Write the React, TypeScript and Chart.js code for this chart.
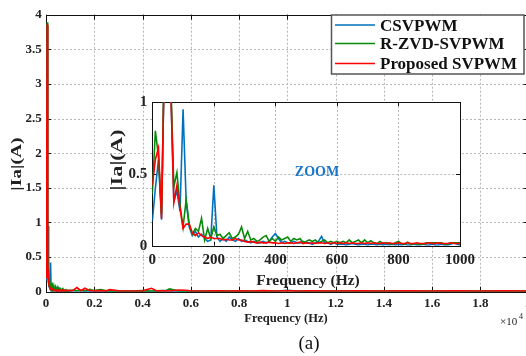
import React, { useEffect, useRef } from "react";
import { Chart, registerables } from "chart.js";
Chart.register(...registerables);

// ---------- data ----------
const freqLow = [
  0, 10, 20, 30, 40, 50, 60, 70, 80, 90, 100, 110, 120, 130, 140, 150, 160, 170, 180, 190,
  200, 210, 220, 230, 240, 250, 260, 270, 280, 290, 300, 310, 320, 330, 340, 350, 360, 370, 380, 390,
  400, 410, 420, 430, 440, 450, 460, 470, 480, 490, 500, 510, 520, 530, 540, 550, 560, 570, 580, 590,
  600, 610, 620, 630, 640, 650, 660, 670, 680, 690, 700, 710, 720, 730, 740, 750, 760, 770, 780, 790,
  800, 810, 820, 830, 840, 850, 860, 870, 880, 890, 900, 910, 920, 930, 940, 950, 960, 970, 980, 990, 1000,
];

const csvLow = [
  0.17, 0.40, 0.60, 0.18, 1.40, 3.84, 1.10, 0.31, 0.38, 0.24, 0.95, 0.31, 0.13, 0.07, 0.10, 0.06, 0.08, 0.05, 0.03, 0.04,
  0.42, 0.06, 0.03, 0.05, 0.03, 0.06, 0.04, 0.03, 0.05, 0.03, 0.04, 0.03, 0.02, 0.03, 0.02, 0.02, 0.03, 0.02, 0.03, 0.06,
  0.085, 0.05, 0.02, 0.03, 0.02, 0.02, 0.03, 0.02, 0.02, 0.03, 0.02, 0.02, 0.01, 0.02, 0.03, 0.065, 0.02, 0.02, 0.01, 0.02,
  0.01, 0.01, 0.01, 0.005, 0.01, 0.015, 0.01, 0.005, 0.01, 0.01, 0.005, 0.01, 0.01, 0.005, 0.01, 0.005, 0.01, 0.005, 0.01, 0.005,
  0.01, 0.005, 0.01, 0.005, 0.005, 0.01, 0.005, 0.005, 0.01, 0.005, 0.005, 0.01, 0.005, 0.005, 0.01, 0.005, 0.005, 0.01, 0.02, 0.01, 0.005,
];

const rzvdLow = [
  0.36, 0.80, 0.62, 0.22, 1.45, 3.89, 1.15, 0.41, 0.51, 0.28, 0.13, 0.32, 0.15, 0.08, 0.12, 0.10, 0.19, 0.04, 0.12, 0.05,
  0.13, 0.07, 0.08, 0.05, 0.07, 0.09, 0.05, 0.06, 0.08, 0.13, 0.05, 0.10, 0.04, 0.05, 0.03, 0.04, 0.06, 0.07, 0.03, 0.05,
  0.03, 0.06, 0.04, 0.05, 0.06, 0.03, 0.05, 0.04, 0.05, 0.02, 0.03, 0.04, 0.03, 0.04, 0.02, 0.03, 0.04, 0.02, 0.03, 0.02,
  0.03, 0.02, 0.03, 0.02, 0.04, 0.02, 0.03, 0.04, 0.02, 0.04, 0.02, 0.035, 0.02, 0.015, 0.03, 0.015, 0.02, 0.015, 0.01, 0.02,
  0.03, 0.015, 0.01, 0.025, 0.01, 0.015, 0.01, 0.01, 0.01, 0.02, 0.02, 0.02, 0.02, 0.02, 0.02, 0.01, 0.01, 0.02, 0.02, 0.02, 0.02,
];

const propLow = [
  0.42, 0.60, 0.68, 0.19, 1.40, 3.86, 1.10, 0.30, 0.42, 0.26, 0.12, 0.15, 0.15, 0.09, 0.07, 0.09, 0.07, 0.06, 0.05, 0.06,
  0.05, 0.05, 0.05, 0.04, 0.045, 0.04, 0.04, 0.05, 0.04, 0.04, 0.03, 0.025, 0.03, 0.025, 0.02, 0.025, 0.02, 0.02, 0.025, 0.02,
  0.02, 0.015, 0.02, 0.015, 0.02, 0.02, 0.015, 0.02, 0.025, 0.015, 0.02, 0.015, 0.02, 0.015, 0.02, 0.02, 0.015, 0.02, 0.015, 0.02,
  0.015, 0.02, 0.015, 0.02, 0.015, 0.02, 0.015, 0.015, 0.02, 0.015, 0.02, 0.015, 0.02, 0.015, 0.015, 0.02, 0.015, 0.02, 0.015, 0.015,
  0.02, 0.015, 0.015, 0.02, 0.015, 0.015, 0.02, 0.015, 0.015, 0.015, 0.02, 0.015, 0.015, 0.02, 0.015, 0.015, 0.015, 0.02, 0.015, 0.015, 0.015,
];

const freqHigh = [
  1100, 1280, 1450, 1610, 1820, 2000, 2260, 2500, 2650, 3000, 3500, 4000, 4370, 4600, 5000, 5120, 5500, 5800, 6000,
  6500, 7000, 7500, 8000, 8500, 9000, 9500, 10000, 10500, 11000, 12000, 13000, 14000, 15000, 16000, 17000, 18000, 19000, 20000,
];
const csvHigh = [
  0.01, 0.01, 0.01, 0.008, 0.01, 0.008, 0.01, 0.006, 0.008, 0.006, 0.005, 0.006, 0.005, 0.006, 0.005, 0.005, 0.006, 0.005, 0.005,
  0.005, 0.005, 0.005, 0.005, 0.005, 0.006, 0.005, 0.02, 0.005, 0.005, 0.005, 0.005, 0.005, 0.005, 0.005, 0.005, 0.005, 0.005, 0.005,
];
const rzvdHigh = [
  0.02, 0.015, 0.02, 0.015, 0.035, 0.015, 0.03, 0.012, 0.015, 0.012, 0.01, 0.015, 0.01, 0.012, 0.02, 0.04, 0.01, 0.012, 0.01,
  0.01, 0.012, 0.01, 0.01, 0.01, 0.01, 0.01, 0.01, 0.01, 0.01, 0.01, 0.01, 0.01, 0.01, 0.01, 0.01, 0.01, 0.01, 0.01,
];
const propHigh = [
  0.015, 0.06, 0.015, 0.05, 0.015, 0.012, 0.015, 0.012, 0.03, 0.012, 0.01, 0.012, 0.05, 0.012, 0.012, 0.01, 0.025, 0.02, 0.012,
  0.01, 0.012, 0.01, 0.012, 0.01, 0.015, 0.01, 0.012, 0.01, 0.012, 0.01, 0.012, 0.01, 0.012, 0.01, 0.012, 0.01, 0.012, 0.01,
];

const seriesNames = ["CSVPWM", "R-ZVD-SVPWM", "Proposed SVPWM"];
const seriesColors = ["#0072BD", "#0a8a0a", "#ff0000"];

const mainXTicks = { min: 0, max: 20000, step: 2000 };
const mainYTicks = { min: 0, max: 4, step: 0.5 };
const insetXTicks = { min: 0, max: 1000, step: 200 };
const insetYTicks = { min: 0, max: 1, step: 0.5 };

// ---------- helpers ----------
const SERIF = "'Liberation Serif', 'Times New Roman', serif";

function pts(fs: number[], vs: number[]) {
  return fs.map((f, i) => ({ x: f, y: vs[i] }));
}

function text(
  ctx: CanvasRenderingContext2D,
  s: string,
  x: number,
  y: number,
  font: string,
  color = "#111",
  align: CanvasTextAlign = "center",
  rot = 0,
  sx = 1
) {
  ctx.save();
  ctx.translate(x, y);
  if (rot) ctx.rotate(rot);
  if (sx !== 1) ctx.scale(sx, 1);
  ctx.font = font;
  ctx.fillStyle = color;
  ctx.textAlign = align;
  ctx.textBaseline = "middle";
  ctx.fillText(s, 0, 0);
  ctx.restore();
}

function framePlugin(tickLen: number, fillWhite: boolean) {
  return {
    id: "frame",
    beforeDraw(chart: any) {
      if (!fillWhite) return;
      const { ctx, chartArea: a } = chart;
      ctx.save();
      ctx.fillStyle = "#fff";
      ctx.fillRect(a.left, a.top, a.right - a.left, a.bottom - a.top);
      ctx.restore();
    },
    beforeDatasetsDraw(chart: any) {
      const { ctx, chartArea: a, scales } = chart;
      const x = scales.x;
      const y = scales.y;
      ctx.save();
      ctx.lineWidth = 1;
      ctx.strokeStyle = "#b8b8b8";
      ctx.setLineDash([2, 2]);
      x.ticks.forEach((t: any) => {
        const px = Math.round(x.getPixelForValue(t.value)) + 0.5;
        if (px > a.left + 2 && px < a.right - 2) {
          ctx.beginPath();
          ctx.moveTo(px, a.top);
          ctx.lineTo(px, a.bottom);
          ctx.stroke();
        }
      });
      y.ticks.forEach((t: any) => {
        const py = Math.round(y.getPixelForValue(t.value)) + 0.5;
        if (py > a.top + 2 && py < a.bottom - 2) {
          ctx.beginPath();
          ctx.moveTo(a.left, py);
          ctx.lineTo(a.right, py);
          ctx.stroke();
        }
      });
      ctx.setLineDash([]);
      ctx.strokeStyle = "#111";
      ctx.strokeRect(Math.round(a.left) + 0.5, Math.round(a.top) + 0.5, Math.round(a.right - a.left), Math.round(a.bottom - a.top));
      ctx.beginPath();
      x.ticks.forEach((t: any) => {
        const px = Math.round(x.getPixelForValue(t.value)) + 0.5;
        ctx.moveTo(px, a.bottom);
        ctx.lineTo(px, a.bottom - tickLen);
        ctx.moveTo(px, a.top);
        ctx.lineTo(px, a.top + tickLen);
      });
      y.ticks.forEach((t: any) => {
        const py = Math.round(y.getPixelForValue(t.value)) + 0.5;
        ctx.moveTo(a.left, py);
        ctx.lineTo(a.left + tickLen, py);
        ctx.moveTo(a.right, py);
        ctx.lineTo(a.right - tickLen, py);
      });
      ctx.stroke();
      ctx.restore();
    },
  };
}

const mainTextPlugin = {
  id: "mainText",
  afterDraw(chart: any) {
    const ctx = chart.ctx as CanvasRenderingContext2D;
    text(ctx, "|Ia|(A)", 17.5, 164, `bold 14px ${SERIF}`, "#222", "center", -Math.PI / 2, 1.4);
    text(ctx, "Frequency (Hz)", 286, 318.5, `bold 12.5px ${SERIF}`, "#222");
    text(ctx, "×10", 500, 322, `11px ${SERIF}`, "#222", "left");
    text(ctx, "4", 519, 317, `8px ${SERIF}`, "#222", "left");
    text(ctx, "(a)", 309, 344, `19px ${SERIF}`, "#111");
    // legend
    ctx.save();
    ctx.fillStyle = "#fff";
    ctx.fillRect(331.5, 15, 192.5, 59);
    ctx.strokeStyle = "#555";
    ctx.lineWidth = 1.5;
    ctx.strokeRect(331.5, 15, 192.5, 59);
    const ys = [25, 43.5, 63.5];
    const ty = [26.2, 44.6, 64.2];
    seriesNames.forEach((n, i) => {
      ctx.strokeStyle = seriesColors[i];
      ctx.lineWidth = 1.5;
      ctx.beginPath();
      ctx.moveTo(335, ys[i]);
      ctx.lineTo(375, ys[i]);
      ctx.stroke();
      text(ctx, n, 380, ty[i], `bold 17px ${SERIF}`, "#111", "left");
    });
    ctx.restore();
  },
};

const insetTextPlugin = {
  id: "insetText",
  afterDraw(chart: any) {
    const ctx = chart.ctx as CanvasRenderingContext2D;
    text(ctx, "|Ia|(A)", 18, 72, `bold 16px ${SERIF}`, "#222", "center", -Math.PI / 2, 1.4);
    text(ctx, "Frequency (Hz)", 208, 192.7, `bold 15.5px ${SERIF}`, "#222");
    text(ctx, "ZOOM", 217, 84.3, `bold 14px ${SERIF}`, "#1a75c8");
  },
};

function makeDatasets(lists: { x: number; y: number }[][]) {
  return lists.map((d, i) => ({
    label: seriesNames[i],
    data: d,
    borderColor: seriesColors[i],
    backgroundColor: seriesColors[i],
    borderWidth: 1.6,
    pointRadius: 0,
    tension: 0,
    order: 3 - i,
  }));
}

export default function App() {
  const mainRef = useRef<HTMLCanvasElement>(null);
  const insetRef = useRef<HTMLCanvasElement>(null);

  useEffect(() => {
    const mainData = [
      pts(freqLow.concat(freqHigh), csvLow.concat(csvHigh)),
      pts(freqLow.concat(freqHigh), rzvdLow.concat(rzvdHigh)),
      pts(freqLow.concat(freqHigh), propLow.concat(propHigh)),
    ];
    const insetData = [pts(freqLow, csvLow), pts(freqLow, rzvdLow), pts(freqLow, propLow)];

    const tickFont = (size: number) => ({ family: SERIF, size, weight: "bold" as const });

    const main = new Chart(mainRef.current!, {
      type: "line",
      data: { datasets: makeDatasets(mainData) as any },
      options: {
        animation: false,
        responsive: false,
        events: [],
        layout: { padding: { left: 0, right: 11.5, top: 14.7, bottom: 0 } },
        plugins: { legend: { display: false }, tooltip: { enabled: false } },
        scales: {
          x: {
            type: "linear",
            min: mainXTicks.min,
            max: mainXTicks.max,
            grid: { display: false, drawTicks: false },
            border: { display: false },
            ticks: {
              stepSize: mainXTicks.step,
              padding: 4,
              maxRotation: 0,
              autoSkip: false,
              color: "#222",
              font: tickFont(13),
              callback: (v: any) => String(+(Number(v) / 10000).toFixed(1)),
            },
            afterFit: (s: any) => {
              s.height = 356 - 291.7;
            },
          },
          y: {
            type: "linear",
            min: mainYTicks.min,
            max: mainYTicks.max,
            grid: { display: false, drawTicks: false },
            border: { display: false },
            ticks: {
              stepSize: mainYTicks.step,
              padding: 4.3,
              color: "#222",
              font: tickFont(13),
              callback: (v: any) => String(v),
            },
            afterFit: (s: any) => {
              s.width = 46;
            },
          },
        },
      },
      plugins: [framePlugin(5, false), mainTextPlugin],
    });

    const inset = new Chart(insetRef.current!, {
      type: "line",
      data: { datasets: makeDatasets(insetData) as any },
      options: {
        animation: false,
        responsive: false,
        events: [],
        layout: { padding: { left: 0, right: 16, top: 10.3, bottom: 0 } },
        plugins: { legend: { display: false }, tooltip: { enabled: false } },
        scales: {
          x: {
            type: "linear",
            min: insetXTicks.min,
            max: insetXTicks.max,
            grid: { display: false, drawTicks: false },
            border: { display: false },
            ticks: {
              stepSize: insetXTicks.step,
              padding: 5,
              maxRotation: 0,
              autoSkip: false,
              color: "#222",
              font: tickFont(15),
              callback: (v: any) => String(v),
            },
            afterFit: (s: any) => {
              s.height = 204 - 157.7;
            },
          },
          y: {
            type: "linear",
            min: insetYTicks.min,
            max: insetYTicks.max,
            grid: { display: false, drawTicks: false },
            border: { display: false },
            ticks: {
              stepSize: insetYTicks.step,
              padding: 5,
              color: "#222",
              font: tickFont(15),
              callback: (v: any) => String(v),
            },
            afterFit: (s: any) => {
              s.width = 52.3;
            },
          },
        },
      },
      plugins: [framePlugin(4, true), insetTextPlugin],
    });

    return () => {
      main.destroy();
      inset.destroy();
    };
  }, []);

  return (
    <div
      style={{
        position: "absolute",
        left: 0,
        top: 0,
        width: 526,
        height: 356,
        overflow: "hidden",
        background: "#fff",
      }}
    >
      <canvas
        ref={mainRef}
        width={540}
        height={356}
        style={{ position: "absolute", left: 0, top: 0, width: 540, height: 356 }}
      />
      <canvas
        ref={insetRef}
        width={380}
        height={204}
        style={{ position: "absolute", left: 100, top: 88, width: 380, height: 204 }}
      />
    </div>
  );
}
